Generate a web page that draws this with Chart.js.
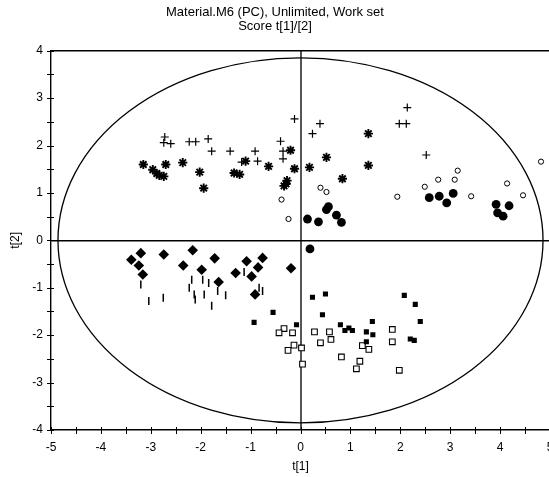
<!DOCTYPE html>
<html lang="en">
<head>
<meta charset="UTF-8">
<title>Score t[1]/[2]</title>
<style>
  body { margin: 0; overflow: hidden; background: #fff; }
  #wrap { width: 564px; height: 477px; }
</style>
</head>
<body>
<div id="wrap"><canvas id="scoreChart" width="564" height="477"></canvas></div>
<script src="https://cdn.jsdelivr.net/npm/chart.js"></script>
<script>
// score values, [t1, t2]
const plusPts = [[-2.72,2.18],[-2.74,2.06],[-2.60,2.04],[-2.23,2.08],[-2.10,2.08],[-1.85,2.14],
  [-1.78,1.88],[-1.41,1.88],[-0.91,1.88],[-0.86,1.67],[-1.18,1.65],[-0.40,2.09],[-0.35,1.88],
  [-0.35,1.72],[-0.12,2.56],[0.39,2.46],[0.24,2.25],[2.14,2.80],[1.98,2.46],[2.12,2.46],[2.52,1.80]];
const starPts = [[-3.15,1.60],[-2.96,1.49],[-2.88,1.41],[-2.83,1.37],[-2.74,1.35],[-2.70,1.60],
  [-2.36,1.64],[-2.02,1.44],[-1.94,1.10],[-1.33,1.42],[-1.22,1.39],[-1.10,1.67],[-0.64,1.56],
  [-0.20,1.90],[-0.12,1.51],[0.18,1.54],[0.52,1.75],[0.84,1.30],[1.36,2.25],[1.36,1.58],
  [-0.27,1.26],[-0.33,1.15],[-0.29,1.19]];
const openCirclePts = [[-0.38,0.86],[-0.24,0.45],[0.40,1.11],[0.52,1.02],[1.94,0.92],[2.49,1.13],
  [2.76,1.28],[3.09,1.28],[3.15,1.47],[3.42,0.93],[4.14,1.20],[4.46,0.95],[4.82,1.66]];
const dotPts = [[0.14,0.45],[0.36,0.39],[0.56,0.71],[0.52,0.65],[0.72,0.53],[0.82,0.38],[0.19,-0.18],
  [2.58,0.90],[2.78,0.93],[2.93,0.79],[3.06,0.99],[3.92,0.76],[3.95,0.58],[4.06,0.51],[4.18,0.73]];
const diamondPts = [[-3.39,-0.41],[-3.20,-0.27],[-3.24,-0.53],[-3.16,-0.72],[-2.74,-0.30],[-2.16,-0.21],
  [-2.35,-0.53],[-1.98,-0.62],[-1.72,-0.38],[-1.64,-0.88],[-1.30,-0.69],[-1.08,-0.44],[-0.76,-0.37],
  [-0.85,-0.57],[-0.98,-0.76],[-0.91,-1.14],[-0.19,-0.59]];
const barPts = [[-3.20,-0.93],[-3.04,-1.28],[-2.75,-1.21],[-2.23,-1.00],[-2.18,-0.83],[-2.13,-1.14],
  [-2.11,-1.25],[-1.96,-0.83],[-1.93,-1.14],[-1.84,-0.90],[-1.78,-1.38],[-1.66,-1.07],[-1.50,-1.16],
  [-1.13,-0.67],[-0.83,-1.00],[-0.76,-1.07]];
const squarePts = [[-0.93,-1.73],[-0.55,-1.52],[-0.08,-1.78],[0.24,-1.20],[0.50,-1.13],[0.44,-1.57],
  [0.80,-1.78],[0.89,-1.90],[0.97,-1.85],[1.04,-1.90],[1.44,-1.71],[1.32,-1.93],[1.45,-1.99],
  [1.32,-2.14],[2.08,-1.16],[2.30,-1.35],[2.40,-1.71],[2.20,-2.08],[2.28,-2.11]];
const openSquarePts = [[-0.33,-1.86],[-0.43,-1.95],[-0.16,-1.95],[-0.13,-2.21],[-0.25,-2.32],[0.02,-2.27],
  [0.04,-2.61],[0.28,-1.93],[0.40,-2.16],[0.58,-1.93],[0.61,-2.09],[0.82,-2.46],[1.24,-2.22],
  [1.37,-2.30],[1.19,-2.55],[1.12,-2.71],[1.84,-1.88],[1.84,-2.14],[1.98,-2.74]];

// Hotelling ellipse half axes
const ellipseA = 4.86;
const ellipseB = 3.85;

const titleLines = ['Material.M6 (PC), Unlimited, Work set', 'Score t[1]/[2]'];

Chart.defaults.font.family = '"Liberation Sans", Arial, Helvetica, sans-serif';
Chart.defaults.color = '#000';

function pts(list) {
    return list.map(p => ({ x: p[0], y: p[1] }));
}

// ellipse, top frame line and ticks crossing the axes
const plotDecor = {
    id: 'plotDecor',
    beforeDatasetsDraw(chart) {
        const { ctx, scales: { x, y } } = chart;
        const cx = x.getPixelForValue(0), cy = y.getPixelForValue(0);
        const rx = x.getPixelForValue(ellipseA) - cx;
        const ry = cy - y.getPixelForValue(ellipseB);
        ctx.save();
        ctx.beginPath();
        ctx.ellipse(cx, cy, rx, ry, 0, 0, Math.PI * 2);
        ctx.lineWidth = 1.3;
        ctx.strokeStyle = '#000';
        ctx.stroke();
        ctx.restore();
    },
    afterDraw(chart) {
        const { ctx, chartArea: a, scales: { x, y } } = chart;
        ctx.save();
        ctx.strokeStyle = '#000';
        ctx.lineWidth = 1.4;
        ctx.beginPath();
        ctx.moveTo(a.left, a.top);
        ctx.lineTo(a.right, a.top);
        ctx.stroke();
        ctx.lineWidth = 1;
        x.ticks.forEach(t => {
            const px = Math.round(x.getPixelForValue(t.value)) + 0.5;
            ctx.beginPath();
            ctx.moveTo(px, a.bottom - 3);
            ctx.lineTo(px, a.bottom + 4);
            ctx.stroke();
        });
        y.ticks.forEach(t => {
            const py = Math.round(y.getPixelForValue(t.value)) + 0.5;
            ctx.beginPath();
            ctx.moveTo(a.left - 4, py);
            ctx.lineTo(a.left + 3, py);
            ctx.stroke();
        });
        ctx.restore();
    }
};

const intLabel = v => Number.isInteger(v) ? String(v) : '';

const ctx = document.getElementById('scoreChart').getContext('2d');
new Chart(ctx, {
    type: 'scatter',
    data: {
        datasets: [
            { data: pts(plusPts), pointStyle: 'cross', pointRadius: 4, borderColor: '#000', borderWidth: 1.2 },
            { data: pts(starPts), pointStyle: 'star', pointRadius: 4.6, borderColor: '#000', borderWidth: 1.9 },
            { data: pts(openCirclePts), pointStyle: 'circle', pointRadius: 2.6, borderColor: '#000', backgroundColor: '#fff', borderWidth: 1 },
            { data: pts(dotPts), pointStyle: 'circle', pointRadius: 4.4, borderColor: '#000', backgroundColor: '#000', borderWidth: 0 },
            { data: pts(diamondPts), pointStyle: 'rectRot', pointRadius: 5.3, borderColor: '#000', backgroundColor: '#000', borderWidth: 0 },
            { data: pts(barPts), pointStyle: 'line', pointRotation: 90, pointRadius: 4, borderColor: '#000', borderWidth: 1.5 },
            { data: pts(squarePts), pointStyle: 'rect', pointRadius: 3.6, borderColor: '#000', backgroundColor: '#000', borderWidth: 0 },
            { data: pts(openSquarePts), pointStyle: 'rect', pointRadius: 4, borderColor: '#000', backgroundColor: '#fff', borderWidth: 1.1 }
        ]
    },
    options: {
        responsive: false,
        animation: false,
        devicePixelRatio: 1,
        events: [],
        layout: { padding: { left: 0, right: 14, top: 0, bottom: 0 } },
        plugins: {
            legend: { display: false },
            tooltip: { enabled: false },
            title: {
                display: true,
                text: titleLines,
                color: '#000',
                font: { size: 13, weight: 'normal', lineHeight: 1.1 },
                padding: { top: 5, bottom: 17.1 }
            }
        },
        scales: {
            x: {
                type: 'linear',
                min: -5, max: 5,
                afterFit: s => { s.height = 47; },
                ticks: { stepSize: 0.5, callback: intLabel, padding: 10, maxRotation: 0, autoSkip: false, font: { size: 12 } },
                grid: {
                    drawTicks: false,
                    color: c => c.tick && c.tick.value === 0 ? '#555' : 'rgba(0,0,0,0)',
                    lineWidth: c => c.tick && c.tick.value === 0 ? 2 : 0
                },
                border: { display: true, color: '#000', width: 1.4 },
                title: { display: true, text: 't[1]', font: { size: 12 }, padding: { top: 0, bottom: 3 } }
            },
            y: {
                type: 'linear',
                min: -4, max: 4,
                afterFit: s => { s.width = 51; },
                ticks: { stepSize: 0.5, callback: intLabel, padding: 8, autoSkip: false, font: { size: 12 } },
                grid: {
                    drawTicks: false,
                    color: c => c.tick && c.tick.value === 0 ? '#000' : 'rgba(0,0,0,0)',
                    lineWidth: c => c.tick && c.tick.value === 0 ? 1.4 : 0
                },
                border: { display: true, color: '#000', width: 1.4 },
                title: { display: true, text: 't[2]', font: { size: 12 }, padding: { top: 8, bottom: 0 } }
            }
        }
    },
    plugins: [plotDecor]
});
</script>
</body>
</html>
